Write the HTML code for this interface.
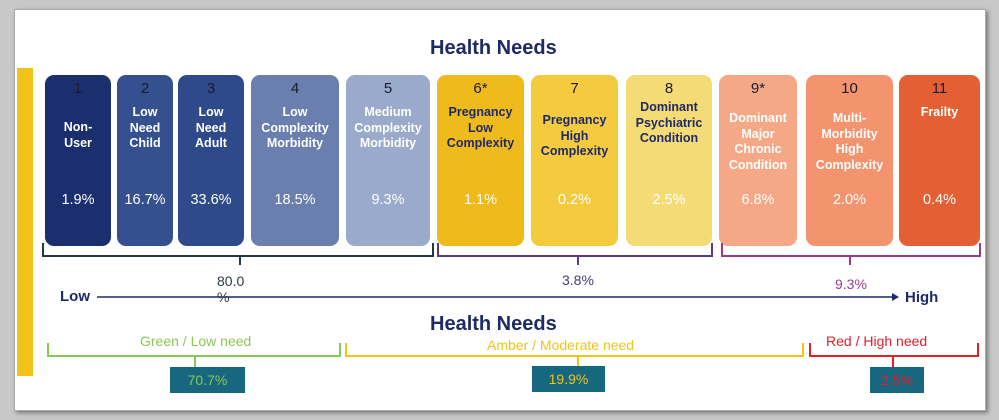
<!DOCTYPE html>
<html><head><style>
body{margin:0;width:999px;height:420px;background:#c8c8c8;position:relative;overflow:hidden;font-family:"Liberation Sans",sans-serif}
.panel{position:absolute;left:14px;top:9px;width:970px;height:400px;background:#fff;box-shadow:2px 2px 4px #777;border:1px solid #aaa}
.box{position:absolute;top:75px;height:171px;border-radius:9px;text-align:center;color:#fff}
.n{position:absolute;top:5px;left:0;right:0;font-size:15px;color:#1a1a2e}
.l{position:absolute;top:30px;left:0;right:0;font-size:12.5px;font-weight:bold;line-height:15.5px}
.p{position:absolute;top:117px;left:0;right:0;font-size:14.5px}
.t{position:absolute;font-size:14px}
.h{position:absolute;font-weight:bold;color:#1d2a66;font-size:20px}
.pct{position:absolute;background:#17677f;height:26px;font-size:14px;text-align:center;line-height:26px}
</style></head><body>
<div class="panel"></div>
<div style="position:absolute;left:17px;top:68px;width:16px;height:308px;background:#f2c21b"></div>
<div class="h" style="left:430px;top:37px">Health Needs</div>
<div class="box" style="left:45px;width:66px;background:#1b2f6f"><div class="n">1</div><div class="l" style="top:45px">Non-<br>User</div><div class="p">1.9%</div></div>
<div class="box" style="left:117px;width:56px;background:#34508f"><div class="n">2</div><div class="l">Low<br>Need<br>Child</div><div class="p">16.7%</div></div>
<div class="box" style="left:178px;width:66px;background:#2f4a8a"><div class="n">3</div><div class="l">Low<br>Need<br>Adult</div><div class="p">33.6%</div></div>
<div class="box" style="left:251px;width:88px;background:#6a7fae"><div class="n">4</div><div class="l">Low<br>Complexity<br>Morbidity</div><div class="p">18.5%</div></div>
<div class="box" style="left:346px;width:84px;background:#9aaacb"><div class="n">5</div><div class="l">Medium<br>Complexity<br>Morbidity</div><div class="p">9.3%</div></div>
<div class="box" style="left:437px;width:87px;background:#efbb1c"><div class="n">6*</div><div class="l" style="color:#1d2a66">Pregnancy<br>Low<br>Complexity</div><div class="p">1.1%</div></div>
<div class="box" style="left:531px;width:87px;background:#f4ca3e"><div class="n">7</div><div class="l" style="color:#1d2a66;top:38px">Pregnancy<br>High<br>Complexity</div><div class="p">0.2%</div></div>
<div class="box" style="left:626px;width:86px;background:#f5db75"><div class="n">8</div><div class="l" style="color:#1d2a66;top:25px">Dominant<br>Psychiatric<br>Condition</div><div class="p">2.5%</div></div>
<div class="box" style="left:719px;width:78px;background:#f5a886"><div class="n">9*</div><div class="l" style="top:36px">Dominant<br>Major<br>Chronic<br>Condition</div><div class="p">6.8%</div></div>
<div class="box" style="left:806px;width:87px;background:#f3946f"><div class="n">10</div><div class="l" style="top:36px">Multi-<br>Morbidity<br>High<br>Complexity</div><div class="p">2.0%</div></div>
<div class="box" style="left:899px;width:81px;background:#e45f33"><div class="n">11</div><div class="l">Frailty</div><div class="p">0.4%</div></div>
<svg style="position:absolute;left:0;top:0" width="999" height="420" fill="none" stroke-width="2">
<path d="M43 243V256H433V243M240 256V265" stroke="#1f3a44"/>
<path d="M438 243V256H712V243M578 256V265" stroke="#5a3a8a"/>
<path d="M722 243V256H980V243M850 256V265" stroke="#9a3a8a"/>
<path d="M97 297H893" stroke="#1d2a66" stroke-width="1.5"/>
<path d="M892 293L899 297L892 301Z" fill="#1d2a66" stroke="none"/>
<path d="M48 343V356H340V343M195 356V367" stroke="#8cc655"/>
<path d="M346 343V356H803V343M578 356V367" stroke="#f0c419"/>
<path d="M810 343V356H978V343M893 356V367" stroke="#e0202a"/>
</svg>
<div class="t" style="left:217px;top:273px;color:#2a3a44">80.0<br>%</div>
<div class="t" style="left:562px;top:272px;color:#4a3a7a">3.8%</div>
<div class="t" style="left:835px;top:276px;color:#9a3a8a">9.3%</div>
<div class="t" style="left:60px;top:288px;font-weight:bold;color:#1d2a66;font-size:15px">Low</div>
<div class="t" style="left:905px;top:289px;font-weight:bold;color:#1d2a66;font-size:15px">High</div>
<div class="h" style="left:430px;top:313px">Health Needs</div>
<div class="t" style="left:140px;top:333px;color:#8cc655">Green / Low need</div>
<div class="t" style="left:487px;top:337px;color:#f0c419">Amber / Moderate need</div>
<div class="t" style="left:826px;top:333px;color:#e0202a">Red / High need</div>
<div class="pct" style="left:170px;top:367px;width:75px;color:#8cc655">70.7%</div>
<div class="pct" style="left:532px;top:366px;width:73px;color:#f0c419">19.9%</div>
<div class="pct" style="left:870px;top:367px;width:54px;color:#e0202a">2.5%</div>
</body></html>
